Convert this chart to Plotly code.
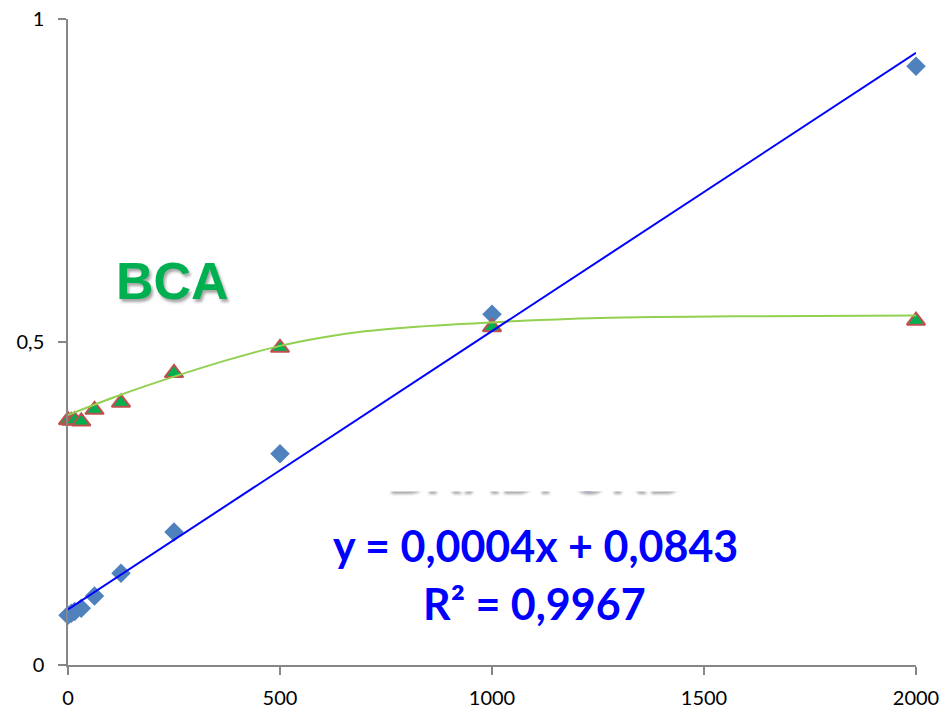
import numpy as np
import plotly.graph_objects as go

# ---- data ----
conc = [0, 7.8, 15.6, 31.25, 62.5, 125, 250, 500, 1000, 2000]
bradford_abs = [0.077, 0.080, 0.083, 0.088, 0.107, 0.142, 0.206, 0.327, 0.543, 0.927]
bca_abs = [0.379, 0.378, 0.379, 0.377, 0.395, 0.406, 0.452, 0.491, 0.523, 0.533]

# BCA trendline
bca_fit_x = [0, 123, 248, 375, 500, 600, 700, 800, 1019, 1255, 1632, 2000]
bca_fit_y = [0.387, 0.418, 0.446, 0.472, 0.494, 0.507, 0.5165, 0.5225, 0.531, 0.537, 0.540, 0.541]

x_ticks = [0, 500, 1000, 1500, 2000]
y_ticks = [0, 0.5, 1]
y_tick_text = ["0", "0,5", "1"]

eq_line1 = "y = 0,0004x + 0,0843"
eq_line2 = "R² = 0,9967"

# linear trendline of the Bradford series
slope, intercept = np.polyfit(conc, bradford_abs, 1)
lin_x = [0, 2000]
lin_y = [intercept + slope * v for v in lin_x]

fig = go.Figure()
fig.add_trace(go.Scatter(
    x=conc, y=bradford_abs, mode="markers", cliponaxis=False,
    marker=dict(symbol="diamond", size=15, color="#4F81BD", line=dict(width=0)),
    showlegend=False))
fig.add_trace(go.Scatter(
    x=conc, y=bca_abs, mode="markers", cliponaxis=False,
    marker=dict(symbol="triangle-up", size=16, color="#00B050",
                line=dict(width=2, color="#C0504D")),
    showlegend=False))
fig.add_trace(go.Scatter(
    x=bca_fit_x, y=bca_fit_y, mode="lines", line=dict(color="#92D050", width=2, shape="spline"),
    showlegend=False))
fig.add_trace(go.Scatter(
    x=lin_x, y=lin_y, mode="lines", line=dict(color="#0000FF", width=2),
    showlegend=False))

def px_x(p):
    return (p - 68) / 848.0

def px_y(p):
    return (665 - p) / 646.0

annots = [
    dict(text="<b>BCA</b>", x=px_x(172.5), y=px_y(281), xref="paper", yref="paper",
         showarrow=False, xanchor="center", yanchor="middle",
         font=dict(family="Liberation Sans", size=52, color="#00B050",
                   shadow="2px 3px 3px rgba(0,0,0,0.35)")),
    dict(text="<b>BRADFORD</b>", x=px_x(535), y=px_y(473), xref="paper", yref="paper",
         showarrow=False, xanchor="center", yanchor="middle",
         font=dict(family="Liberation Sans", size=52, color="#0000FF",
                   shadow="2px 3px 3px rgba(0,0,0,0.35)")),
    dict(text=" ", x=px_x(535), y=px_y(455), xref="paper", yref="paper",
         showarrow=False, xanchor="center", yanchor="middle",
         width=340, height=72, bgcolor="white", borderpad=0,
         font=dict(size=10)),
    dict(text="<b>" + eq_line1 + "</b>", x=px_x(535), y=px_y(545), xref="paper", yref="paper",
         showarrow=False, xanchor="center", yanchor="middle",
         font=dict(family="Lato", size=43, color="#0000FF")),
    dict(text="<b>" + eq_line2 + "</b>", x=px_x(534), y=px_y(603), xref="paper", yref="paper",
         showarrow=False, xanchor="center", yanchor="middle",
         font=dict(family="Lato", size=43, color="#0000FF")),
]

axis_common = dict(showgrid=False, zeroline=False, showline=True, linecolor="#868686",
                   linewidth=1.5, ticks="outside", ticklen=8, tickcolor="#868686",
                   tickwidth=1.5, automargin=False,
                   tickfont=dict(family="Lato", size=20, color="#000000"))

fig.update_layout(
    width=944, height=712,
    margin=dict(l=68, r=28, t=19, b=47, autoexpand=False),
    paper_bgcolor="white", plot_bgcolor="white",
    separators=", ",
    annotations=annots,
    xaxis=dict(range=[0, 2000], tickvals=x_ticks, ticklabelstandoff=6, **axis_common),
    yaxis=dict(range=[0, 1], tickvals=y_ticks, ticktext=y_tick_text, ticklabelstandoff=10,
               **axis_common),
)

fig.write_html("out.html", config={"displayModeBar": False},
               post_script="document.body.style.margin='0px';document.body.style.overflow='hidden';")
